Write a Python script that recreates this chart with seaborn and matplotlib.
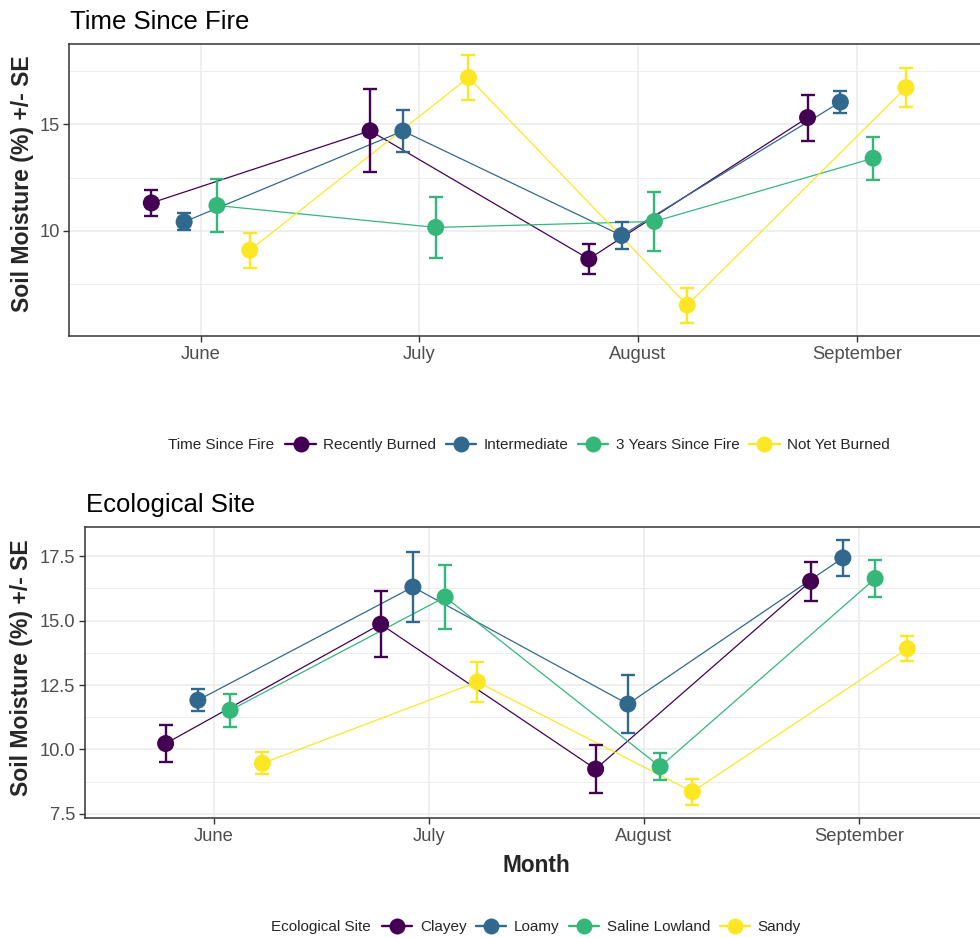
import numpy as np
import pandas as pd
import matplotlib
matplotlib.use("Agg")
import matplotlib.pyplot as plt
import seaborn as sns
from matplotlib.lines import Line2D
from matplotlib.ticker import MultipleLocator
from matplotlib.offsetbox import HPacker

# ---------------- data ----------------
months = ["June", "July", "August", "September"]

fire_groups = ["Recently Burned", "Intermediate", "3 Years Since Fire", "Not Yet Burned"]
fire_recent_mean = [11.31, 14.70, 8.68, 15.32]
fire_recent_se = [0.62, 1.96, 0.72, 1.08]
fire_inter_mean = [10.42, 14.69, 9.78, 16.05]
fire_inter_se = [0.40, 0.98, 0.64, 0.52]
fire_3yr_mean = [11.19, 10.16, 10.44, 13.41]
fire_3yr_se = [1.23, 1.43, 1.38, 1.00]
fire_notyet_mean = [9.09, 17.20, 6.51, 16.73]
fire_notyet_se = [0.83, 1.05, 0.82, 0.92]

site_groups = ["Clayey", "Loamy", "Saline Lowland", "Sandy"]
site_clayey_mean = [10.23, 14.86, 9.24, 16.52]
site_clayey_se = [0.71, 1.28, 0.92, 0.75]
site_loamy_mean = [11.91, 16.30, 11.76, 17.43]
site_loamy_se = [0.42, 1.36, 1.13, 0.71]
site_saline_mean = [11.52, 15.91, 9.33, 16.63]
site_saline_se = [0.64, 1.25, 0.53, 0.70]
site_sandy_mean = [9.46, 12.62, 8.36, 13.91]
site_sandy_se = [0.43, 0.78, 0.50, 0.48]

palette = ["#440154", "#31688E", "#35B779", "#FDE725"]


def build(groups, means, ses):
    rows = []
    n = len(groups)
    dodge = 0.6
    for gi, g in enumerate(groups):
        off = -dodge / 2 + dodge / n * (gi + 0.5)
        for mi, m in enumerate(months):
            rows.append(dict(month=m, group=g, xpos=mi + off,
                             mean=means[gi][mi], se=ses[gi][mi]))
    return pd.DataFrame(rows)


fire_df = build(fire_groups,
                [fire_recent_mean, fire_inter_mean, fire_3yr_mean, fire_notyet_mean],
                [fire_recent_se, fire_inter_se, fire_3yr_se, fire_notyet_se])
site_df = build(site_groups,
                [site_clayey_mean, site_loamy_mean, site_saline_mean, site_sandy_mean],
                [site_clayey_se, site_loamy_se, site_saline_se, site_sandy_se])

# ---------------- style ----------------
sns.set_style("white")
plt.rcParams["font.family"] = ["Liberation Sans", "DejaVu Sans"]

W, H = 980, 938
fig = plt.figure(figsize=(W / 100, H / 100), dpi=100)


def fx(px):
    return px / W


def fy(py):
    return 1 - py / H


def draw_panel(ax, df, groups, ylim, major, minor, title, title_xy):
    pal = dict(zip(groups, palette))
    sns.lineplot(data=df, x="xpos", y="mean", hue="group", hue_order=groups,
                 palette=pal, estimator=None, sort=True, lw=0.9, legend=False,
                 ax=ax, zorder=2)
    for g in groups:
        d = df[df.group == g]
        ax.errorbar(d.xpos, d["mean"], yerr=d.se, fmt="none", ecolor=pal[g],
                    elinewidth=1.7, capsize=5.2, capthick=1.7, zorder=3)
    sns.scatterplot(data=df, x="xpos", y="mean", hue="group", hue_order=groups,
                    palette=pal, s=150, linewidth=0, legend=False, ax=ax, zorder=4)
    ax.set_xlim(-0.6, 3.6)
    ax.set_ylim(*ylim)
    ax.set_xticks(range(len(months)))
    ax.set_xticklabels(months)
    ax.yaxis.set_major_locator(MultipleLocator(major))
    ax.yaxis.set_minor_locator(MultipleLocator(minor))
    ax.grid(which="major", color="#EBEBEB", lw=1.1, zorder=0)
    ax.grid(which="minor", axis="y", color="#EBEBEB", lw=0.6, zorder=0)
    ax.set_axisbelow(True)
    for s in ax.spines.values():
        s.set_color("#333333")
        s.set_linewidth(1.1)
    ax.tick_params(which="major", length=4, width=1.0, color="#333333",
                   labelcolor="#4D4D4D", labelsize=13.2, pad=3,
                   bottom=True, left=True)
    ax.tick_params(which="minor", length=0)
    ax.set_xlabel("")
    ax.set_ylabel("")
    fig.text(fx(title_xy[0]), fy(title_xy[1]), title, fontsize=18.5,
             color="black", ha="left", va="baseline")


# top panel
ax1 = fig.add_axes([fx(69.3), fy(336), fx(988 - 69.3), (336 - 43.7) / H])
draw_panel(ax1, fire_df, fire_groups, (5.06, 18.79), 5, 2.5,
           "Time Since Fire", (70, 29))
ax1.yaxis.set_major_formatter(matplotlib.ticker.FormatStrFormatter("%d"))
fig.text(fx(23), fy(184), "Soil Moisture (%) +/- SE", rotation=90,
         fontsize=16.6, fontweight="bold", ha="center", va="center")

# bottom panel
ax2 = fig.add_axes([fx(85), fy(818.3), fx(988 - 85), (818.3 - 526.7) / H])
draw_panel(ax2, site_df, site_groups, (7.33, 18.64), 2.5, 1.25,
           "Ecological Site", (86, 511.7))
ax2.yaxis.set_major_formatter(matplotlib.ticker.FormatStrFormatter("%.1f"))
fig.text(fx(22), fy(668), "Soil Moisture (%) +/- SE", rotation=90,
         fontsize=16.6, fontweight="bold", ha="center", va="center")
fig.text(fx(536), fy(871.7), "Month", fontsize=16.3, fontweight="bold",
         ha="center", va="baseline")


def add_legend(groups, title, cx, cy):
    handles = [Line2D([0], [0], color=c, lw=1.7, marker="o", markersize=11.5,
                      markeredgewidth=0) for c in palette]
    leg = fig.legend(handles, groups, title=title, ncol=len(groups),
                     loc="center", bbox_to_anchor=(fx(cx), fy(cy)),
                     bbox_transform=fig.transFigure, frameon=False,
                     fontsize=11, title_fontsize=11, handlelength=2.0,
                     handletextpad=0.5, columnspacing=0.6, borderpad=0)
    box = leg._legend_box
    kids = box.get_children()
    box._children = [HPacker(children=kids, align="center", pad=0, sep=8)]
    return leg


add_legend(fire_groups, "Time Since Fire", 529, 445)
add_legend(site_groups, "Ecological Site", 536, 927)

fig.savefig("out.png", dpi=100)
